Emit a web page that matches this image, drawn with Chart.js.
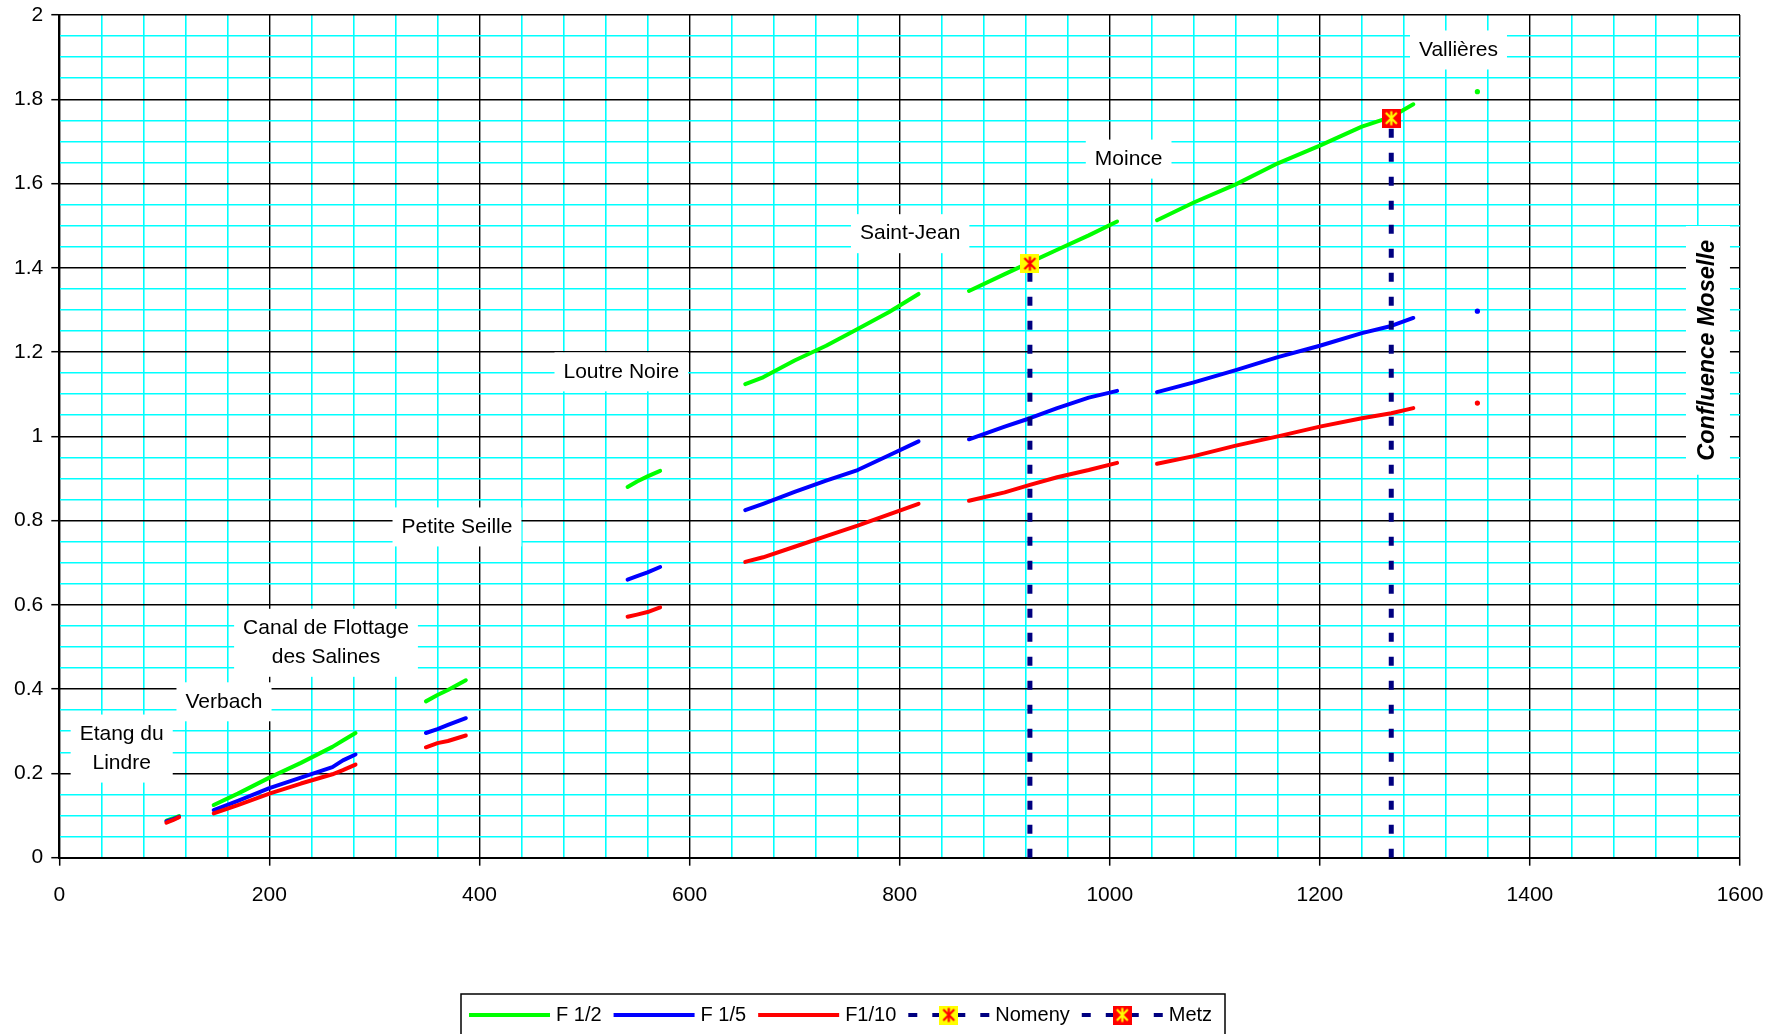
<!DOCTYPE html>
<html><head><meta charset="utf-8">
<script src="https://cdn.jsdelivr.net/npm/chart.js@4.4.1/dist/chart.umd.min.js"></script>
<style>html,body{margin:0;padding:0;background:#fff}canvas{display:block}</style>
</head><body>
<canvas id="c" width="1778" height="1034"></canvas>
<script>
// ---------- data ----------
const xTickLabels = ['0','200','400','600','800','1000','1200','1400','1600'];
const yTickLabels = ['0','0.2','0.4','0.6','0.8','1','1.2','1.4','1.6','1.8','2'];

const segmentX = [
  [102,108,114],
  [147,170,200,230,260,270,282],
  [349,360,370,387],
  [541,550,560,572],
  [653,670,700,730,760,790,818],
  [866,900,924,950,980,1007],
  [1045,1080,1120,1160,1200,1240,1268,1289],
  [1350]
];
const f12 = [
  [0.088,0.093,0.099],
  [0.125,0.152,0.19,0.225,0.263,0.278,0.296],
  [0.371,0.386,0.398,0.421],
  [0.88,0.893,0.905,0.918],
  [1.124,1.14,1.18,1.215,1.255,1.295,1.338],
  [1.345,1.385,1.413,1.443,1.477,1.51],
  [1.513,1.555,1.598,1.648,1.69,1.735,1.758,1.788],
  [1.818]
];
const f15 = [
  [0.086,0.091,0.097],
  [0.113,0.135,0.165,0.19,0.215,0.231,0.245],
  [0.296,0.305,0.315,0.331],
  [0.66,0.668,0.677,0.69],
  [0.825,0.84,0.868,0.895,0.92,0.955,0.988],
  [0.993,1.023,1.043,1.067,1.092,1.108],
  [1.105,1.128,1.157,1.188,1.215,1.245,1.262,1.281],
  [1.297]
];
const f110 = [
  [0.083,0.089,0.096],
  [0.105,0.125,0.152,0.176,0.198,0.208,0.221],
  [0.262,0.272,0.277,0.29],
  [0.572,0.577,0.583,0.594],
  [0.702,0.713,0.738,0.763,0.788,0.815,0.84],
  [0.847,0.867,0.885,0.903,0.92,0.937],
  [0.935,0.953,0.978,1.0,1.023,1.043,1.055,1.067],
  [1.079]
];
const nomenyX = [924,924];
const nomenyY = [0,1.41];
const metzX = [1268,1268];
const metzY = [0,1.755];

const seriesNames = ['F 1/2','F 1/5','F1/10','Nomeny','Metz'];

// ---------- annotations ----------
const labelsText = [
  {lines:['Etang du','Lindre'], x:59.4, y:0.259},
  {lines:['Verbach'], x:156.8, y:0.37},
  {lines:['Canal de Flottage','des Salines'], x:253.9, y:0.51},
  {lines:['Petite Seille'], x:378.6, y:0.785},
  {lines:['Loutre Noire'], x:535, y:1.153},
  {lines:['Saint-Jean'], x:810, y:1.481},
  {lines:['Moince'], x:1018, y:1.658},
  {lines:['Vallières'], x:1332, y:1.917}
];
const sideLabel = {text:'Confluence Moselle', x:1569.5, y:1.204};

// ---------- helpers ----------
function buildPoints(xs, ys){
  const pts = []; const isolated = new Set();
  xs.forEach((seg,i)=>{
    if (i>0) pts.push({x:(xs[i-1][xs[i-1].length-1]+seg[0])/2, y:null});
    if (seg.length===1) isolated.add(pts.length);
    seg.forEach((x,j)=>pts.push({x:x, y:ys[i][j]}));
  });
  return {pts, isolated};
}
function makeMarker(bg, fg){
  const c=document.createElement('canvas'); c.width=19; c.height=19;
  const g=c.getContext('2d');
  g.fillStyle=bg; g.fillRect(0,0,19,19);
  g.strokeStyle=fg; g.lineWidth=2.2; g.lineCap='butt';
  g.beginPath();
  g.moveTo(9.5,2.5); g.lineTo(9.5,16.5);
  g.moveTo(4,4); g.lineTo(15,15);
  g.moveTo(15,4); g.lineTo(4,15);
  g.stroke();
  return c;
}
const nomenyMarker = makeMarker('#ffff00','#ff0000');
const metzMarker = makeMarker('#ff0000','#ffff00');

const s12 = buildPoints(segmentX, f12);
const s15 = buildPoints(segmentX, f15);
const s110 = buildPoints(segmentX, f110);

function lineDs(label, s, color, order){
  return {
    label, data:s.pts, borderColor:color, backgroundColor:color, borderWidth:4,
    borderCapStyle:'round', borderJoinStyle:'round', tension:0, spanGaps:false, order,
    pointRadius: ctx => s.isolated.has(ctx.dataIndex) ? 2.6 : 0,
    pointBorderWidth:0, pointBackgroundColor:color
  };
}
function refDs(label, xs, ys, marker, order){
  return {
    label, data: xs.map((x,i)=>({x, y:ys[i]})), borderColor:'#000080', borderWidth:5,
    borderDash:[9,15], tension:0, order, legendMarker:marker,
    pointStyle:[marker, marker], pointRadius:[0,10], pointHoverRadius:0
  };
}

const FONT = 'Liberation Sans, Arial, sans-serif';
const isMult = (v, m) => Math.abs(v/m - Math.round(v/m)) < 1e-6;

const annotPlugin = {
  id:'annot',
  beforeDatasetsDraw(chart){
    const {ctx, scales:{x, y}} = chart;
    ctx.save();
    ctx.font = '21px ' + FONT;
    ctx.textAlign='center'; ctx.textBaseline='middle';
    const lh = 29;
    labelsText.forEach(l=>{
      const cx = x.getPixelForValue(l.x), cy = y.getPixelForValue(l.y);
      const w = Math.max(...l.lines.map(t=>ctx.measureText(t).width));
      const h = l.lines.length*lh;
      ctx.fillStyle='#fff';
      ctx.fillRect(cx-w/2-9, cy-h/2-5, w+18, h+10);
      ctx.fillStyle='#000';
      l.lines.forEach((t,i)=>ctx.fillText(t, cx, cy - h/2 + lh/2 + i*lh));
    });
    ctx.font = 'italic bold 23.5px ' + FONT;
    const sx = x.getPixelForValue(sideLabel.x), sy = y.getPixelForValue(sideLabel.y);
    const tw = ctx.measureText(sideLabel.text).width;
    ctx.fillStyle='#fff';
    ctx.fillRect(sx-22, sy-tw/2-14, 44, tw+28);
    ctx.translate(sx, sy); ctx.rotate(-Math.PI/2);
    ctx.fillStyle='#000';
    ctx.fillText(sideLabel.text, 0, 0);
    ctx.restore();
  },
  afterDraw(chart){
    const ctx = chart.ctx;
    ctx.save();
    const top = 994, left = 461, right = 1225;
    ctx.fillStyle='#fff'; ctx.fillRect(left, top, right-left, 60);
    ctx.strokeStyle='#000'; ctx.lineWidth=1.5; ctx.strokeRect(left, top, right-left, 60);
    ctx.font = '20px ' + FONT; ctx.textBaseline='middle'; ctx.textAlign='left';
    let px = 469; const py = 1015;
    chart.data.datasets.forEach(ds=>{
      ctx.save();
      ctx.strokeStyle = ds.borderColor; ctx.lineWidth = 4;
      ctx.setLineDash(ds.borderDash || []);
      ctx.beginPath(); ctx.moveTo(px, py); ctx.lineTo(px+81, py); ctx.stroke();
      ctx.restore();
      if (ds.legendMarker) ctx.drawImage(ds.legendMarker, px+40.5-9.5, py-9.5);
      px += 87;
      ctx.fillStyle='#000';
      ctx.fillText(ds.label, px, py);
      px += ctx.measureText(ds.label).width + 12;
    });
    ctx.restore();
  }
};

new Chart(document.getElementById('c'), {
  type:'line',
  data:{
    datasets:[
      lineDs(seriesNames[0], s12, '#00ff00', 5),
      lineDs(seriesNames[1], s15, '#0000ff', 4),
      lineDs(seriesNames[2], s110, '#ff0000', 3),
      refDs(seriesNames[3], nomenyX, nomenyY, nomenyMarker, 2),
      refDs(seriesNames[4], metzX, metzY, metzMarker, 1)
    ]
  },
  options:{
    responsive:false, animation:false, events:[], devicePixelRatio:1,
    layout:{padding:{top:14, right:38, left:0, bottom:0}},
    plugins:{legend:{display:false}, tooltip:{enabled:false}},
    scales:{
      x:{
        type:'linear', min:0, max:1600,
        afterFit: s => { s.height = 176.3; s.paddingLeft = 0; s.paddingRight = 0; },
        ticks:{
          stepSize:40, autoSkip:false, maxRotation:0, padding:17,
          color:'#000', font:{family:FONT, size:21},
          callback: v => isMult(v,200) ? xTickLabels[Math.round(v/200)] : ''
        },
        grid:{
          color: c => isMult(c.tick.value,200) ? '#000' : '#00ffff',
          lineWidth: c => isMult(c.tick.value,200) ? 1.4 : 1.6,
          tickColor: c => isMult(c.tick.value,200) ? '#000' : 'rgba(0,0,0,0)',
          tickLength:8, tickWidth:1.5
        },
        border:{color:'#000', width:2}
      },
      y:{
        type:'linear', min:0, max:2,
        afterFit: s => { s.width = 59.3; s.paddingTop = 0; s.paddingBottom = 0; },
        ticks:{
          stepSize:0.05, autoSkip:false, padding:8,
          color:'#000', font:{family:FONT, size:21},
          callback: v => isMult(v,0.2) ? yTickLabels[Math.round(v/0.2)] : ''
        },
        grid:{
          color: c => isMult(c.tick.value,0.2) ? '#000' : '#00ffff',
          lineWidth: c => isMult(c.tick.value,0.2) ? 1.4 : 1.6,
          tickColor: c => isMult(c.tick.value,0.2) ? '#000' : 'rgba(0,0,0,0)',
          tickLength:8, tickWidth:1.5
        },
        border:{color:'#000', width:2}
      }
    }
  },
  plugins:[annotPlugin]
});
</script>
</body></html>
